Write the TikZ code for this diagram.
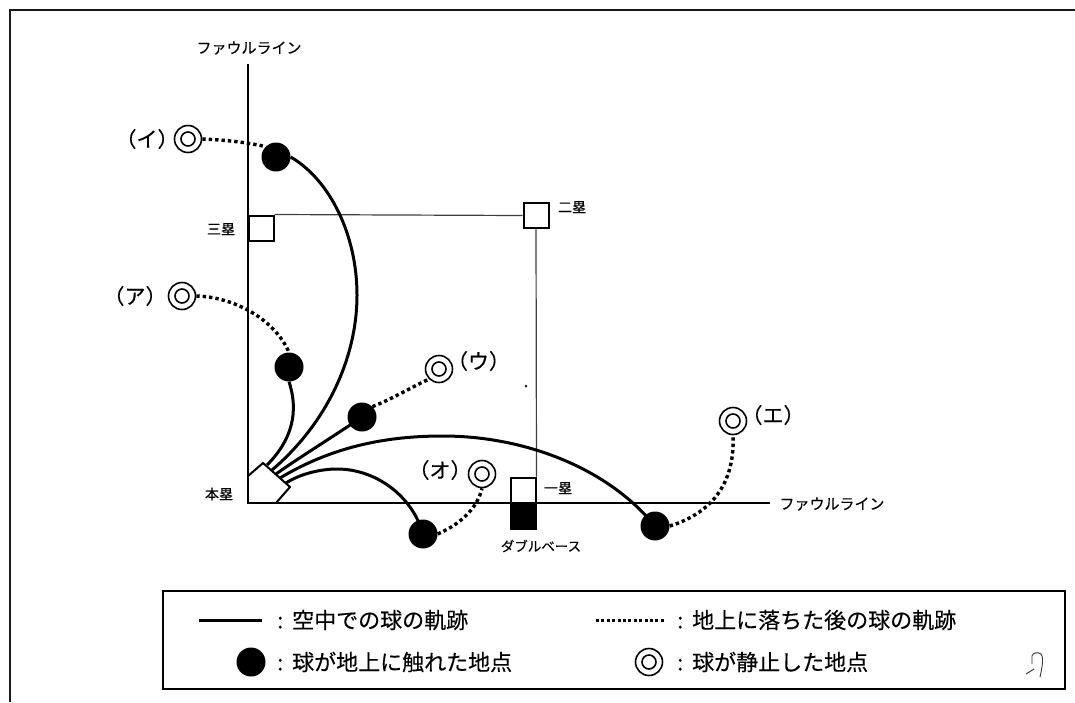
\documentclass[tikz,border=0pt]{standalone}
\usepackage{fontspec}
\setmainfont{Noto Sans CJK JP}[FakeBold=0.25]
\tikzset{
  frameline/.style={line width=2pt,draw=black!90},
  foul/.style={line width=2.6pt},
  thinline/.style={line width=1.2pt,draw=black!75},
  flight/.style={line width=3pt},
  roll/.style={line width=3.4pt,dash pattern=on 3.4pt off 3pt},
  basebox/.style={draw,line width=2pt,fill=white,minimum size=25pt,inner sep=0pt},
  touch/.style={circle,fill=black,minimum size=29pt,inner sep=0pt},
  ring/.style={circle,draw,line width=1.6pt,fill=white,minimum size=27pt,inner sep=0pt,
    path picture={\draw[line width=1.6pt] (path picture bounding box.center) circle (7pt);}},
  small/.style={font=\fontsize{14}{14}\selectfont,inner sep=0pt},
  tag/.style={font=\fontsize{21}{21}\selectfont,inner sep=0pt},
  kana/.style={font=\fontsize{15}{15}\selectfont,inner sep=0pt},
  legend/.style={font=\fontsize{22}{22}\selectfont,inner sep=0pt,anchor=west},
  speck/.style={line width=0.9pt,draw=black!80},
}
\newcommand{\lgcolon}{\makebox[15pt][l]{:}}
\begin{document}
\begin{tikzpicture}[x=1pt,y=-1pt]
\useasboundingbox (0,0) rectangle (1075,702);
\fill[white] (0,0) rectangle (1075,702);
% outer frame
\coordinate (fa) at (10,702);
\coordinate (fb) at (10,10);
\coordinate (fc) at (1075,10);
\draw[frameline] (fa) -- (fb) -- (fc);
% foul lines
\coordinate (hp) at (248,503);
\coordinate (ftop) at (248,64);
\coordinate (fright) at (770,503);
% bases
\node[basebox] (third) at (261,228) {};
\node[basebox] (second) at (536,215.5) {};
\node[basebox,minimum height=26pt] (first) at (523,490.5) {};
\node[basebox,fill=black,minimum height=26pt] (dbl) at (523,516) {};
\draw[thinline] (third.north east) -- (second.west);
\draw[thinline] (second.south) -- (first.north east);
\draw[foul] (ftop) -- (hp) -- (fright);
% home plate
\draw[line width=2pt,fill=white] (248,476) -- (263,463) coordinate (ht) -- (290,487) coordinate (hr) -- (276,503) coordinate (hb);
\draw[foul] (248,476) -- (hp) -- (276,503);
% points
\node[touch] (ta) at (289,367) {};
\node[touch] (ti) at (276,157) {};
\node[touch] (tu) at (362,417) {};
\node[touch] (te) at (655,526) {};
\node[touch] (to) at (423,534) {};
\node[ring] (ra) at (182,296) {};
\node[ring] (ri) at (188,139) {};
\node[ring] (ru) at (439,369) {};
\node[ring] (re) at (733,421) {};
\node[ring] (ro) at (482,474) {};
% flights
\coordinate (sa) at (267,465);
\coordinate (si) at (272,470);
\coordinate (su) at (276,474);
\coordinate (se) at (280,478);
\coordinate (so) at (286,483);
\draw[flight] (sa) .. controls (292,440) and (299,412) .. (ta.south);
\draw[flight] (si) .. controls (325,425) and (357,360) .. (357,295) .. controls (357,235) and (330,180) .. (ti.east);
\draw[flight] (su) .. controls (300,457) and (325,442) .. (tu.center);
\draw[flight] (se) .. controls (335,445) and (390,436) .. (443,436) .. controls (520,436) and (605,465) .. (te.center);
\draw[flight] (so) .. controls (300,474) and (320,469) .. (337,469) .. controls (375,469) and (412,495) .. (to.center);
% rolls
\draw[roll] (ra.east) .. controls (235,297) and (275,320) .. (ta.north);
\draw[roll] (ri.east) .. controls (225,140) and (245,142) .. (ti.north west);
\draw[roll] (tu.north east) .. controls (390,400) and (410,388) .. (ru.south west);
\draw[roll] (te.east) .. controls (715,512) and (735,480) .. (re.south);
\draw[roll] (to.east) .. controls (465,522) and (478,505) .. (ro.south);
% tags
\node[tag] (la) at (135,296) {（ア）};
\node[tag] (li) at (147,139) {（イ）};
\node[tag] (lu) at (478.5,361) {（ウ）};
\node[tag] (le) at (773,415) {（エ）};
\node[tag] (lo) at (440,470) {（オ）};
% labels
\node[kana] (kf1) at (249,48) {ファウルライン};
\node[kana] (kf2) at (832,504) {ファウルライン};
\node[small] (k3) at (221,229) {三塁};
\node[small] (k2) at (572,207) {二塁};
\node[small] (k1) at (558,488) {一塁};
\node[small] (kh) at (219,494) {本塁};
\node[font=\fontsize{13.5}{14}\selectfont,inner sep=0pt] (kd) at (541,546) {ダブルベース};
% legend
\node[draw,line width=2pt,minimum width=902pt,minimum height=98pt,inner sep=0pt] (lg) at (614,639.5) {};
\coordinate (l1a) at (199,620);
\coordinate (l1b) at (262,620);
\coordinate (l2a) at (596,620);
\coordinate (l2b) at (665,620);
\draw[flight] (l1a) -- (l1b);
\draw[line width=3pt,dash pattern=on 3pt off 2.4pt] (l2a) -- (l2b);
\node[touch] (lt) at (251,662) {};
\node[ring] (lr) at (649,662) {};
\node[legend] (t1) at (277,620) {\lgcolon 空中での球の軌跡};
\node[legend] (t2) at (677,620) {\lgcolon 地上に落ちた後の球の軌跡};
\node[legend] (t3) at (277,662) {\lgcolon 球が地上に触れた地点};
\node[legend] (t4) at (677,662) {\lgcolon 球が静止した地点};
% pencil mark and speck on the sheet
\draw[speck] (1032,664) -- (1032,656) .. controls (1033,652) and (1038,652) .. (1041,654) .. controls (1044,658) and (1042,668) .. (1040,677);
\draw[speck] (1026,674) -- (1034,669);
\fill[black!85] (526,386) circle (1.5pt);
\end{tikzpicture}
\end{document}
